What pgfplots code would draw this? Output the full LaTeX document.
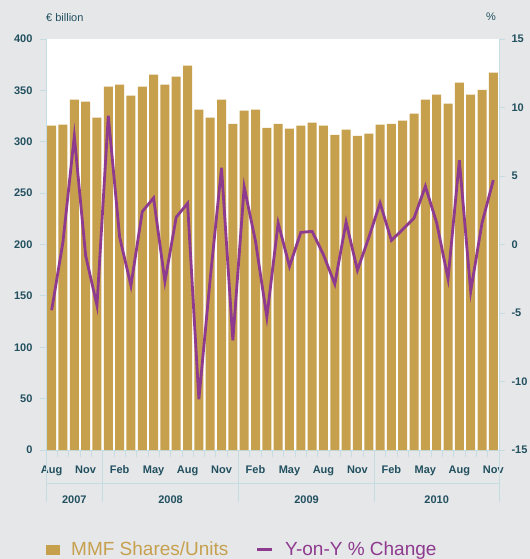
\documentclass[border=0pt]{standalone}
\usepackage{pgfplots}
\pgfplotsset{compat=1.18}
\usepackage{pgfplotstable}
\usepackage{fontspec}
\setmainfont{Liberation Sans}
\definecolor{bg}{HTML}{E5E7E9}
\definecolor{gold}{HTML}{C7A04E}
\definecolor{purp}{HTML}{8E3A8E}
\definecolor{axl}{HTML}{C4DCE2}
\definecolor{tl}{HTML}{22505F}

\pgfplotstableread{
x v
0 315.6
1 316.6
2 340.9
3 339.0
4 323.4
5 353.6
6 355.5
7 344.8
8 353.6
9 365.3
10 355.5
11 363.3
12 374.0
13 331.2
14 323.4
15 340.9
16 317.5
17 330.2
18 331.2
19 313.6
20 317.5
21 312.7
22 315.6
23 318.5
24 315.6
25 306.8
26 311.7
27 305.8
28 307.8
29 316.6
30 317.5
31 320.5
32 327.3
33 340.9
34 345.8
35 337.0
36 357.5
37 345.8
38 350.6
39 367.2
}\bars

\pgfplotstableread{
x p
0 -4.8
1 0.2
2 7.9
3 -0.8
4 -4.45
5 9.4
6 0.55
7 -3.0
8 2.4
9 3.4
10 -2.7
11 2.0
12 3.0
13 -11.3
14 -2.5
15 5.6
16 -7.0
17 4.2
18 0.23
19 -5.3
20 1.57
21 -1.6
22 0.88
23 0.96
24 -0.75
25 -2.88
26 1.64
27 -1.88
28 0.5
29 3.03
30 0.3
31 1.1
32 1.93
33 4.25
34 1.57
35 -2.5
36 6.15
37 -3.42
38 1.57
39 4.7
}\yoy

\pgfplotsset{
  common/.style={
    width=453bp, height=411bp, scale only axis,
    xmin=-0.5, xmax=39.5,
    axis line style={draw=axl, line width=0.8bp},
    tick style={draw=axl, line width=0.8bp},
    major tick length=6bp,
    tick align=outside,
    /pgf/number format/assume math mode=true,
    ticklabel style={font=\fontsize{11bp}{13bp}\selectfont\bfseries, text=tl},
  }
}

\begin{document}
\begin{tikzpicture}
\fill[bg] (-46bp,-109bp) rectangle (484bp,450bp);
\begin{axis}[common,
  at={(0,0)}, anchor=south west,
  ymin=0, ymax=400,
  axis x line*=bottom, axis y line*=left,
  axis background/.style={fill=white},
  ytick={0,50,100,150,200,250,300,350,400},
  yticklabels={0,50,100,150,200,250,300,350,400},
  yticklabel style={anchor=east, xshift=-4bp},
  xtick={0,3,...,39},
  xticklabels={Aug,Nov,Feb,May,Aug,Nov,Feb,May,Aug,Nov,Feb,May,Aug,Nov},
  xtick style={draw=none},
  xticklabel style={anchor=base, yshift=-17bp},
]
\addplot[ybar, bar width=9bp, fill=gold, draw=none] table[x=x, y=v] {\bars};
\end{axis}
\begin{axis}[common,
  at={(0,0)}, anchor=south west,
  ymin=-15, ymax=15,
  axis y line*=right, axis x line=none,
  ytick={-15,-10,-5,0,5,10,15},
  yticklabels={-15,-10,-5,0,5,10,15},
  yticklabel style={anchor=west, xshift=3bp},
  legend style={at={(0,0)}, anchor=west, yshift=-99.5bp, draw=none, fill=none,
    inner sep=0pt, nodes={inner sep=0pt},
    font=\fontsize{19bp}{22bp}\selectfont,
    legend columns=2,
    /tikz/every odd column/.append style={column sep=11.6bp},
    /tikz/every even column/.append style={column sep=27bp}},
]
\addlegendimage{legend image code/.code={\fill[gold] (0bp,-4.2bp) rectangle (13bp,4.2bp);}}
\addlegendentry{\textcolor{gold}{MMF Shares/Units}}
\addplot[purp, line width=2.8bp, sharp plot, mark=none,
  legend image code/.code={\draw[purp, line width=3bp] (0bp,0bp) -- (15bp,0bp);}]
  table[x=x, y=p] {\yoy};
\addlegendentry{\textcolor{purp}{Y-on-Y \% Change}}
\end{axis}
\begin{scope}[draw=axl, line width=0.8bp]
\foreach \k in {0,...,40} \draw (\k*11.325bp,0) -- (\k*11.325bp,-6.5bp);
\foreach \k in {0,5,17,29,40} \draw (\k*11.325bp,0) -- (\k*11.325bp,-52bp);
\draw (0,-33bp) -- (453bp,-33bp);
\end{scope}
\begin{scope}[font=\fontsize{11bp}{13bp}\selectfont\bfseries, text=tl]
\node[anchor=base] at (28.3bp,-53.3bp) {2007};
\node[anchor=base] at (124.6bp,-53.3bp) {2008};
\node[anchor=base] at (260.5bp,-53.3bp) {2009};
\node[anchor=base] at (390.7bp,-53.3bp) {2010};
\end{scope}
\begin{scope}[font=\fontsize{11bp}{13bp}\selectfont, text=tl]
\node[anchor=base west, inner sep=0pt] at (0bp,428.3bp) {€ billion};
\node[anchor=base east, inner sep=0pt] at (450bp,429.3bp) {\%};
\end{scope}
\pgfresetboundingbox
\path[use as bounding box] (-46bp,-109bp) rectangle (484bp,450bp);
\end{tikzpicture}
\end{document}
